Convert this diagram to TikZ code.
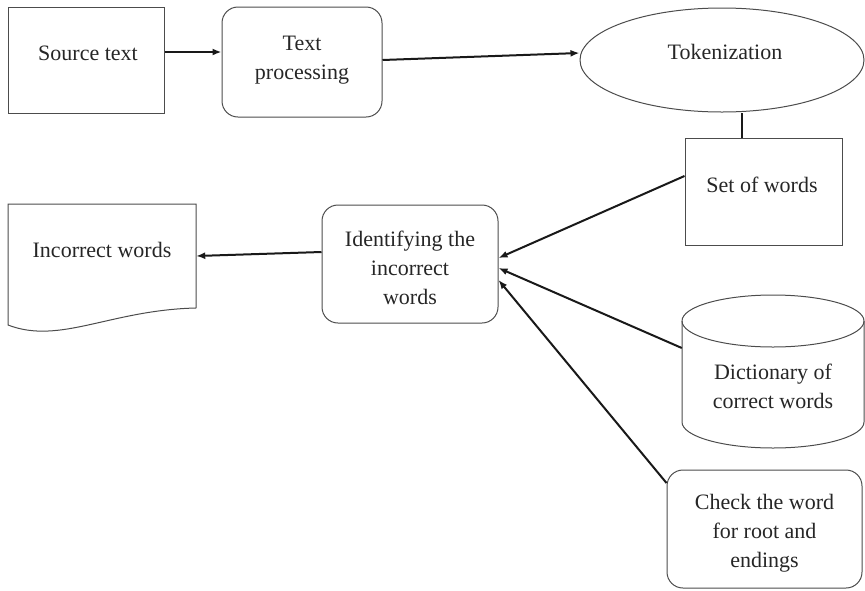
\documentclass[tikz,border=0pt]{standalone}
\usepackage{fontspec}
\setmainfont{Liberation Serif}
\usetikzlibrary{arrows.meta,shapes.geometric}
\begin{document}
\begin{tikzpicture}[x=1pt,y=-1pt,
  shp/.style={draw=black!70, line width=1pt, inner sep=0pt},
  rbox/.style={shp, rounded corners=16pt},
  txt/.style={font=\fontsize{22}{29}\selectfont, align=center, inner sep=0pt, text=black!85},
  arr/.style={draw=black!90, line width=2pt, -{Latex[length=9pt,width=7pt]}},
  conn/.style={draw=black!90, line width=2pt}]
\useasboundingbox (0,0) rectangle (865,590);
% boxes
\node[shp, minimum width=156pt, minimum height=106pt] (src) at (86,60) {};
\node[txt] (srct) at (88,53) {Source text};
\node[rbox, minimum width=160pt, minimum height=110pt] (tp) at (302,62) {};
\node[txt] (tpt) at (302,60) {Text\\processing};
\node[shp, ellipse, minimum width=284pt, minimum height=104pt] (tok) at (722,60) {};
\node[txt] (tokt) at (725,52) {Tokenization};
\node[shp, minimum width=157pt, minimum height=107pt] (set) at (763.5,191.5) {};
\node[txt] (sett) at (762,185) {Set of words};
\node[rbox, minimum width=176pt, minimum height=118pt] (ident) at (410,264) {};
\node[txt] (identt) at (410,268) {Identifying the\\incorrect\\words};
% document shape
\node[inner sep=0pt, minimum width=188pt, minimum height=104pt] (inc) at (102,256) {};
\draw[draw=black!70, line width=1pt] (196,308) -- (196,204) -- (8,204) -- (8,325)
  .. controls (60,345) and (110,310) .. (196,308);
\node[txt] (inct) at (102,250) {Incorrect words};
% cylinder
\node[inner sep=0pt, minimum width=182pt, minimum height=153pt] (dict) at (773,371.5) {};
\draw[draw=black!70, line width=1pt] (773,321) ellipse[x radius=91pt, y radius=26pt];
\draw[draw=black!70, line width=1pt] (682,321) -- (682,422)
  arc[start angle=180, end angle=360, x radius=91pt, y radius=26pt] -- (864,321);
\node[txt] (dictt) at (773,386) {Dictionary of\\correct words};
\node[rbox, minimum width=195pt, minimum height=118pt] (chk) at (764.5,529) {};
\node[txt] (chkt) at (764.5,533) {Check the word\\for root and\\endings};
% connectors
\draw[arr] ([yshift=8pt]src.east) -- ([yshift=8pt]src.east -| tp.west);
\draw[arr] ([yshift=2pt]tp.east) -- ([yshift=7pt]tok.west);
\draw[conn] ([xshift=-21.5pt]set.north) -- ([xshift=-21.5pt]set.north |- tok.south);
\draw[arr] ([yshift=15.5pt]set.west) -- ([yshift=6pt]ident.east);
\draw[arr] ([yshift=23.5pt]dict.west) -- ([yshift=-4pt]ident.east);
\draw[arr] ([yshift=46pt]chk.west) -- ([yshift=-16pt]ident.east);
\draw[arr] ([yshift=12pt]ident.west) -- (inc.east);
\end{tikzpicture}
\end{document}
